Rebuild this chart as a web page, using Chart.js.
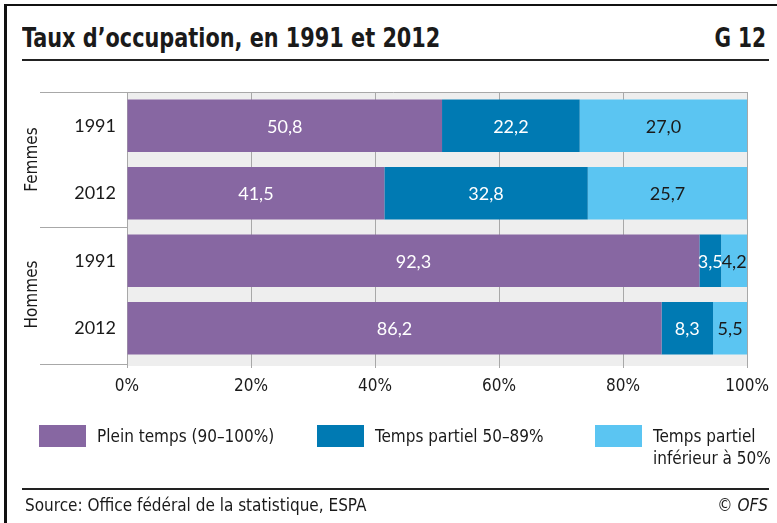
<!DOCTYPE html>
<html>
<head>
<meta charset="utf-8">
<script src="https://cdn.jsdelivr.net/npm/chart.js@4.4.1/dist/chart.umd.min.js"></script>
<style>
  html, body { margin: 0; padding: 0; background: #fff; }
  body { width: 777px; height: 523px; position: relative; overflow: hidden;
         font-family: "Liberation Sans Narrow", "DejaVu Sans Condensed", sans-serif; color: #1a1a1a; }
  #frameTop { position: absolute; left: 4px; top: 4px; width: 773px; height: 2px; background: #111; }
  #frameLeft { position: absolute; left: 4px; top: 4px; width: 3px; height: 519px; background: #111; }
  .rule { position: absolute; left: 22px; width: 747px; height: 2px; background: #222; }
  #title { position: absolute; left: 22px; top: 23px; font-size: 26px; font-weight: bold;
           transform: scaleX(0.89); transform-origin: left top; white-space: nowrap; }
  #gnum { position: absolute; right: 11px; top: 23px; font-size: 26px; font-weight: bold;
          transform: scaleX(0.86); transform-origin: right top; }
  #chart { position: absolute; left: 0; top: 0; }
  #legend { position: absolute; left: 0; top: 0; }
  .item { position: absolute; top: 425px; display: flex; align-items: flex-start; font-size: 17px; line-height: 22px; }
  .swatch { width: 47px; height: 22px; margin-right: 11px; flex: none; }
  .lbl { white-space: nowrap; }
  #source { position: absolute; left: 25px; top: 495px; font-size: 17px; }
  #copy { position: absolute; right: 9px; top: 495px; font-size: 17px; font-style: italic; }
</style>
</head>
<body>
<div id="frameTop"></div>
<div id="frameLeft"></div>
<div id="title">Taux d’occupation, en 1991 et 2012</div>
<div id="gnum">G 12</div>
<div class="rule" style="top:59px"></div>
<canvas id="chart" width="777" height="523"></canvas>
<div id="legend"></div>
<div class="rule" style="top:488px"></div>
<div id="source">Source: Office fédéral de la statistique, ESPA</div>
<div id="copy">© OFS</div>

<script>
const categorias = ['1991', '2012', '1991', '2012'];
const grupos = ['Femmes', 'Hommes'];
const series = ['Plein temps (90–100%)', 'Temps partiel 50–89%', 'Temps partiel inférieur à 50%'];
const pleinTemps = [50.8, 41.5, 92.3, 86.2];
const partiel5089 = [22.2, 32.8, 3.5, 8.3];
const partielMoins50 = [27.0, 25.7, 4.2, 5.5];
const ticksX = [0, 20, 40, 60, 80, 100];

const cores = ['#8767a2', '#007ab3', '#5bc5f2'];
const coresTexto = ['#ffffff', '#ffffff', '#1a1a1a'];
const legendaX = [39, 317, 595];
const legendaLargura = [0, 0, 124];

// legenda em HTML
const legenda = document.getElementById('legend');
series.forEach((nome, i) => {
  const div = document.createElement('div');
  div.className = 'item';
  div.style.left = legendaX[i] + 'px';
  const estilo = legendaLargura[i] ? `style="white-space:normal;width:${legendaLargura[i]}px"` : '';
  div.innerHTML = `<span class="swatch" style="background:${cores[i]}"></span><span class="lbl" ${estilo}>${nome}</span>`;
  legenda.appendChild(div);
});

const fundo = {
  id: 'fundo',
  beforeDraw(chart) {
    const { ctx, chartArea: a } = chart;
    ctx.save();
    ctx.fillStyle = '#eeeeee';
    ctx.fillRect(a.left, a.top, a.right - a.left, a.bottom - a.top + 4);
    ctx.restore();
  },
  afterDraw(chart) {
    const { ctx, chartArea: a, scales: { y } } = chart;
    ctx.save();
    ctx.strokeStyle = '#a8a8a8';
    ctx.lineWidth = 1;
    const meio = (y.getPixelForValue(1) + y.getPixelForValue(2)) / 2;
    [[a.top, a.right], [meio, a.left], [a.bottom + 2, a.left]].forEach(([py, x2]) => {
      ctx.beginPath();
      ctx.moveTo(40, Math.round(py) + 0.5);
      ctx.lineTo(x2, Math.round(py) + 0.5);
      ctx.stroke();
    });
    // nomes dos grupos, girados
    ctx.fillStyle = '#1a1a1a';
    ctx.font = '17px "Liberation Sans Narrow", "DejaVu Sans Condensed", sans-serif';
    ctx.textAlign = 'center';
    ctx.textBaseline = 'middle';
    grupos.forEach((g, i) => {
      const cy = (y.getPixelForValue(i * 2) + y.getPixelForValue(i * 2 + 1)) / 2;
      ctx.save();
      ctx.translate(33, cy);
      ctx.rotate(-Math.PI / 2);
      ctx.fillText(g, 0, 0);
      ctx.restore();
    });
    // valores nas barras
    ctx.font = '18px Lato, sans-serif';
    chart.data.datasets.forEach((ds, di) => {
      chart.getDatasetMeta(di).data.forEach((bar, i) => {
        const v = ds.data[i];
        ctx.fillStyle = coresTexto[di];
        ctx.fillText(v.toFixed(1).replace('.', ','), (bar.x + bar.base) / 2, bar.y + 1);
      });
    });
    ctx.restore();
  }
};

new Chart(document.getElementById('chart'), {
  type: 'bar',
  data: {
    labels: categorias,
    datasets: [
      { label: series[0], data: pleinTemps, backgroundColor: cores[0] },
      { label: series[1], data: partiel5089, backgroundColor: cores[1] },
      { label: series[2], data: partielMoins50, backgroundColor: cores[2] }
    ]
  },
  options: {
    indexAxis: 'y',
    responsive: false,
    animation: false,
    layout: { padding: { left: 0, top: 92, right: 29, bottom: 121 } },
    datasets: { bar: { categoryPercentage: 1, barPercentage: 0.78, borderWidth: 0 } },
    plugins: { legend: { display: false }, tooltip: { enabled: false } },
    scales: {
      x: {
        stacked: true, min: 0, max: 100,
        afterFit: s => { s.height = 40; },
        afterBuildTicks: s => { s.ticks = ticksX.map(v => ({ value: v })); },
        border: { display: false },
        grid: { color: '#a8a8a8', tickLength: 6, drawTicks: true },
        ticks: {
          color: '#1a1a1a', padding: 8,
          font: { size: 17, family: '"Liberation Sans Narrow", "DejaVu Sans Condensed", sans-serif' },
          callback: v => v + '%'
        }
      },
      y: {
        stacked: true,
        afterFit: s => { s.width = 127; },
        border: { display: true, color: '#a8a8a8' },
        grid: { display: false },
        ticks: { color: '#1a1a1a', padding: 3, font: { size: 18, family: 'Lato, sans-serif' } }
      }
    }
  },
  plugins: [fundo]
});
</script>
</body>
</html>
